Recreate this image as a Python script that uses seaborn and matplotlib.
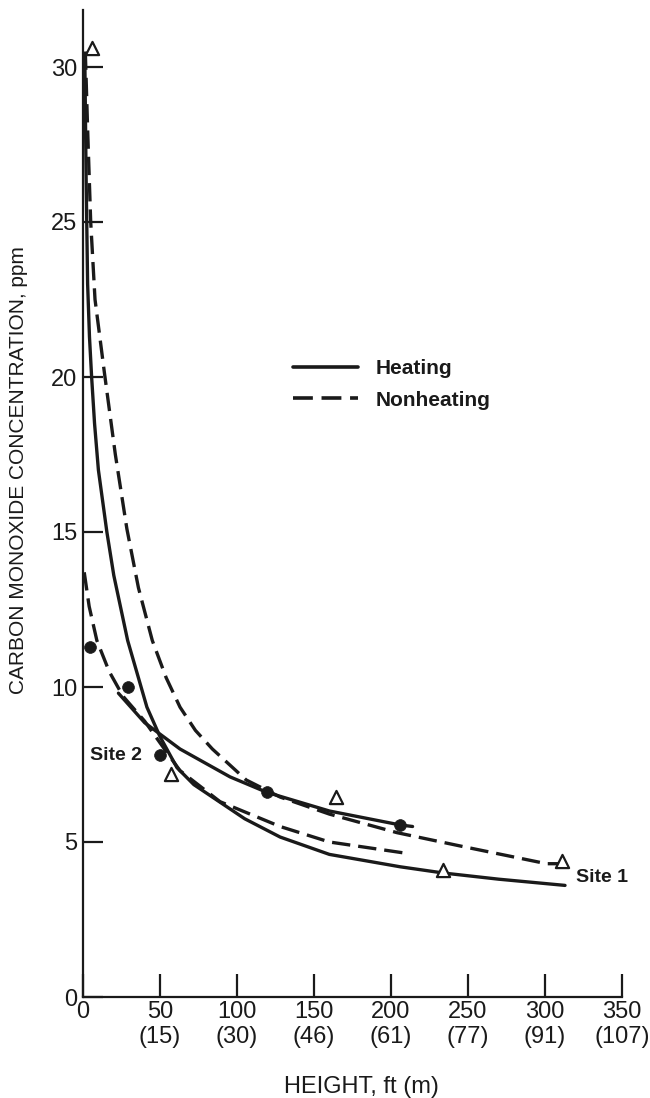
import matplotlib
matplotlib.use("Agg")
import matplotlib.pyplot as plt
import seaborn as sns
import pandas as pd

# ---------------- data ----------------
# curves: height (ft) vs CO concentration (ppm)
site1_heat_ft  = [1.2, 2.0, 3.0, 4.2, 5.6, 7.5, 10, 15.5, 20, 29, 41.5, 50, 61, 72, 84, 105, 128, 160, 206, 234, 270, 313]
site1_heat_ppm = [30.2, 26.5, 23.0, 21.3, 20.0, 18.5, 17.0, 15.0, 13.6, 11.5, 9.35, 8.4, 7.4, 6.85, 6.45, 5.75, 5.16, 4.6, 4.2, 4.0, 3.8, 3.6]

site1_nonheat_ft  = [1.5, 3.0, 5.0, 7.8, 14, 21, 28.5, 36, 45, 54, 63, 73, 84, 106, 128, 160, 204, 247, 301, 310]
site1_nonheat_ppm = [30.5, 28.0, 25.0, 22.5, 20.1, 17.5, 15.1, 13.2, 11.5, 10.3, 9.35, 8.6, 8.0, 7.0, 6.45, 5.9, 5.3, 4.85, 4.3, 4.3]

site2_heat_ft  = [23, 40, 63, 95.5, 119.5, 160, 206, 214]
site2_heat_ppm = [9.8, 8.85, 8.0, 7.1, 6.6, 6.0, 5.55, 5.5]

site2_nonheat_ft  = [0.8, 4, 9, 17, 26, 40, 50, 63, 89, 128, 160, 208]
site2_nonheat_ppm = [13.7, 12.6, 11.5, 10.5, 9.7, 8.9, 8.2, 7.3, 6.3, 5.5, 5.0, 4.65]

# observed points
site1_pts_ft  = [6, 57, 164, 234, 311]
site1_pts_ppm = [30.6, 7.2, 6.45, 4.1, 4.4]
site2_pts_ft  = [4.5, 29, 50, 119.5, 206]
site2_pts_ppm = [11.3, 10.0, 7.8, 6.6, 5.55]

x_ticks = [0, 50, 100, 150, 200, 250, 300, 350]
x_tick_labels = ["0", "50\n(15)", "100\n(30)", "150\n(46)", "200\n(61)",
                 "250\n(77)", "300\n(91)", "350\n(107)"]
y_ticks = [0, 5, 10, 15, 20, 25, 30]

# ---------------- build tables ----------------
frames = []
for name, mode, xs, ys in [
    ("Site 1 heat", "Heating", site1_heat_ft, site1_heat_ppm),
    ("Site 1 nonheat", "Nonheating", site1_nonheat_ft, site1_nonheat_ppm),
    ("Site 2 heat", "Heating", site2_heat_ft, site2_heat_ppm),
    ("Site 2 nonheat", "Nonheating", site2_nonheat_ft, site2_nonheat_ppm),
]:
    frames.append(pd.DataFrame({"ft": xs, "ppm": ys, "curve": name, "mode": mode}))
curves = pd.concat(frames, ignore_index=True)

pts1 = pd.DataFrame({"ft": site1_pts_ft, "ppm": site1_pts_ppm})
pts2 = pd.DataFrame({"ft": site2_pts_ft, "ppm": site2_pts_ppm})

# ---------------- style ----------------
sns.set_theme(style="ticks")
plt.rcParams["font.family"] = ["Liberation Sans", "DejaVu Sans"]
INK = "#1a1a1a"

fig = plt.figure(figsize=(6.5, 10.98), dpi=100, facecolor="white")
ax = fig.add_axes([83 / 650, 1 - 997 / 1098, (622 - 83) / 650, (997 - 10) / 1098])
ax.set_facecolor("white")

sns.lineplot(data=curves, x="ft", y="ppm", units="curve", style="mode",
             estimator=None, sort=False, color=INK, linewidth=2.4,
             dashes={"Heating": "", "Nonheating": (5.5, 2.4)},
             style_order=["Heating", "Nonheating"], ax=ax, legend=True)

sns.scatterplot(data=pts1, x="ft", y="ppm", marker="^", s=90,
                facecolor="white", edgecolor=INK, linewidth=1.6, ax=ax,
                zorder=5, legend=False)
sns.scatterplot(data=pts2, x="ft", y="ppm", marker="o", s=72,
                color=INK, edgecolor=INK, linewidth=0.5, ax=ax, zorder=5,
                legend=False)

ax.set_xlim(0, 350)
ax.set_ylim(0, (997 - 10) / 31)

for side in ["top", "right"]:
    ax.spines[side].set_visible(False)
for side in ["left", "bottom"]:
    ax.spines[side].set_color(INK)
    ax.spines[side].set_linewidth(1.6)

ax.set_xticks(x_ticks)
ax.set_xticklabels(x_tick_labels, fontsize=17, color=INK, linespacing=1.15)
ax.set_yticks(y_ticks)
ax.set_yticklabels([str(v) for v in y_ticks], fontsize=17, color=INK)
ax.tick_params(axis="x", direction="in", length=16.5, width=1.6, pad=3, color=INK)
ax.tick_params(axis="y", direction="in", length=14.5, width=1.6, pad=4, color=INK)

ax.set_xlabel("HEIGHT, ft (m)", fontsize=17, color=INK, va="center")
ax.xaxis.set_label_coords((361 - 83) / 539, (997 - 1087) / 987)
ax.set_ylabel("CARBON MONOXIDE CONCENTRATION, ppm", fontsize=15, color=INK, va="center")
ax.yaxis.set_label_coords((19 - 83) / 539, (997 - 470) / 987)

ax.text((116 - 83) / 1.54, (997 - 755) / 31, "Site 2", fontsize=14,
        fontweight="bold", color=INK, ha="center", va="center")
ax.text((602 - 83) / 1.54, (997 - 877) / 31, "Site 1", fontsize=14,
        fontweight="bold", color=INK, ha="center", va="center", clip_on=False)

handles, labels = ax.get_legend_handles_labels()
keep = [(h, l) for h, l in zip(handles, labels) if l in ("Heating", "Nonheating")]
leg = ax.legend([h for h, _ in keep], [l for _, l in keep],
                loc="upper left", bbox_to_anchor=(293 / 650, 1 - 359 / 1098),
                bbox_transform=fig.transFigure, frameon=False,
                handlelength=3.1, handletextpad=0.85, labelspacing=0.6,
                borderpad=0, borderaxespad=0,
                prop={"size": 15, "weight": "bold"})
for t in leg.get_texts():
    t.set_color(INK)
for h in leg.get_lines():
    h.set_linewidth(2.6)

fig.savefig("out.png", dpi=100, facecolor="white")
